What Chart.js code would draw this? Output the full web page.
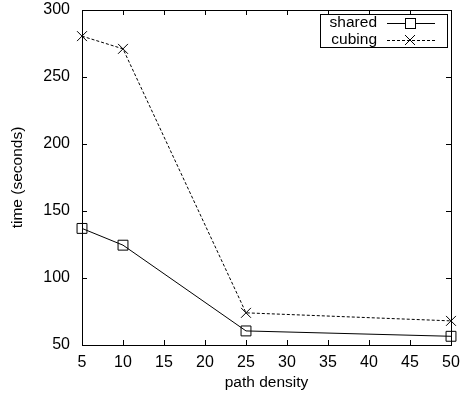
<!DOCTYPE html>
<html>
<head>
<meta charset="utf-8">
<script src="https://cdn.jsdelivr.net/npm/chart.js@4"></script>
<style>
  html, body { margin: 0; padding: 0; background: #fff; }
  #wrap { width: 467px; height: 396px; }
</style>
</head>
<body>
<div id="wrap"><canvas id="chart" width="467" height="396"></canvas></div>
<script>
// values
const densities = [5, 10, 25, 50];
const sharedTimes = [137, 124.5, 60.5, 56.5];
const cubingTimes = [280.5, 271, 74, 68];
const xTicks = [5, 10, 15, 20, 25, 30, 35, 40, 45, 50];
const yTicks = [50, 100, 150, 200, 250, 300];

const FONT = "Liberation Sans, Arial, Helvetica, sans-serif";

// gnuplot style frame: box border plus inward ticks on all four sides
const framePlugin = {
    id: "frame",
    afterDatasetsDraw(chart) {
        const ctx = chart.ctx;
        const a = chart.chartArea;
        const xs = chart.scales.x;
        const ys = chart.scales.y;
        const len = 5;
        ctx.save();
        ctx.strokeStyle = "#000";
        ctx.lineWidth = 1;
        ctx.beginPath();
        xTicks.forEach(v => {
            const px = Math.round(xs.getPixelForValue(v)) + 0.5;
            ctx.moveTo(px, a.bottom);
            ctx.lineTo(px, a.bottom - len);
            ctx.moveTo(px, a.top);
            ctx.lineTo(px, a.top + len);
        });
        yTicks.forEach(v => {
            const py = Math.round(ys.getPixelForValue(v)) + 0.5;
            ctx.moveTo(a.left, py);
            ctx.lineTo(a.left + len, py);
            ctx.moveTo(a.right, py);
            ctx.lineTo(a.right - len, py);
        });
        ctx.stroke();
        ctx.strokeRect(Math.round(a.left) + 0.5, Math.round(a.top) + 0.5,
            Math.round(a.right - a.left), Math.round(a.bottom - a.top));
        ctx.restore();
    }
};

// legend box in the top right corner, text before the sample line
const keyPlugin = {
    id: "key",
    afterDraw(chart) {
        const ctx = chart.ctx;
        const boxLeft = 320, boxRight = 447, boxTop = 14, boxBottom = 47;
        const rowH = 17;
        ctx.save();
        ctx.fillStyle = "#fff";
        ctx.fillRect(boxLeft, boxTop, boxRight - boxLeft, boxBottom - boxTop);
        ctx.strokeStyle = "#000";
        ctx.lineWidth = 1;
        ctx.strokeRect(boxLeft + 0.5, boxTop + 0.5, boxRight - boxLeft, boxBottom - boxTop);
        ctx.font = "15.5px " + FONT;
        ctx.fillStyle = "#000";
        ctx.textAlign = "right";
        ctx.textBaseline = "middle";
        chart.data.datasets.forEach((ds, i) => {
            const y = boxTop + 9 + i * rowH;
            ctx.fillText(ds.label, 377, y);
            ctx.beginPath();
            ctx.setLineDash(ds.borderDash || []);
            ctx.moveTo(387, y + 0.5);
            ctx.lineTo(435, y + 0.5);
            ctx.stroke();
            ctx.setLineDash([]);
            ctx.beginPath();
            if (ds.pointStyle === "rect") {
                ctx.fillStyle = "#fff";
                ctx.fillRect(405.5, y - 4.5, 10, 10);
                ctx.strokeRect(405.5, y - 4.5, 10, 10);
                ctx.fillStyle = "#000";
            } else {
                ctx.moveTo(405, y - 5);
                ctx.lineTo(415, y + 5);
                ctx.moveTo(415, y - 5);
                ctx.lineTo(405, y + 5);
                ctx.stroke();
            }
        });
        ctx.restore();
    }
};

new Chart(document.getElementById("chart"), {
    type: "line",
    data: {
        datasets: [
            {
                label: "shared",
                data: densities.map((d, i) => ({ x: d, y: sharedTimes[i] })),
                borderColor: "#000",
                borderWidth: 1,
                pointStyle: "rect",
                pointRadius: 7,
                pointBackgroundColor: "rgba(0,0,0,0)",
                pointBorderColor: "#000",
                pointBorderWidth: 1,
                tension: 0,
            },
            {
                label: "cubing",
                data: densities.map((d, i) => ({ x: d, y: cubingTimes[i] })),
                borderColor: "#000",
                borderWidth: 1,
                borderDash: [3, 2],
                pointStyle: "crossRot",
                pointRadius: 7,
                pointBorderColor: "#000",
                pointBorderWidth: 1,
                tension: 0,
            },
        ]
    },
    options: {
        responsive: false,
        animation: false,
        clip: false,
        layout: { padding: { top: 10, right: 16, left: 0, bottom: 0 } },
        plugins: {
            legend: { display: false },
            tooltip: { enabled: false },
        },
        scales: {
            x: {
                type: "linear",
                min: 5,
                max: 50,
                afterBuildTicks: s => { s.ticks = xTicks.map(v => ({ value: v })); },
                afterFit: s => { s.height = 51; s.paddingLeft = 0; s.paddingRight = 0; },
                grid: { display: false, drawTicks: false },
                border: { display: false },
                ticks: { color: "#000", font: { family: FONT, size: 16 }, padding: 8, maxRotation: 0 },
                title: { display: true, text: "path density", color: "#000", font: { family: FONT, size: 15.5 }, padding: { top: 6 } },
            },
            y: {
                type: "linear",
                min: 50,
                max: 300,
                afterBuildTicks: s => { s.ticks = yTicks.map(v => ({ value: v })); },
                afterFit: s => { s.width = 82; s.paddingTop = 0; s.paddingBottom = 0; },
                grid: { display: false, drawTicks: false },
                border: { display: false },
                ticks: { color: "#000", font: { family: FONT, size: 16 }, padding: 12 },
                title: { display: true, text: "time (seconds)", color: "#000", font: { family: FONT, size: 15.5 }, padding: { bottom: 0, top: 8 } },
            },
        },
    },
    plugins: [framePlugin, keyPlugin],
});
</script>
</body>
</html>
